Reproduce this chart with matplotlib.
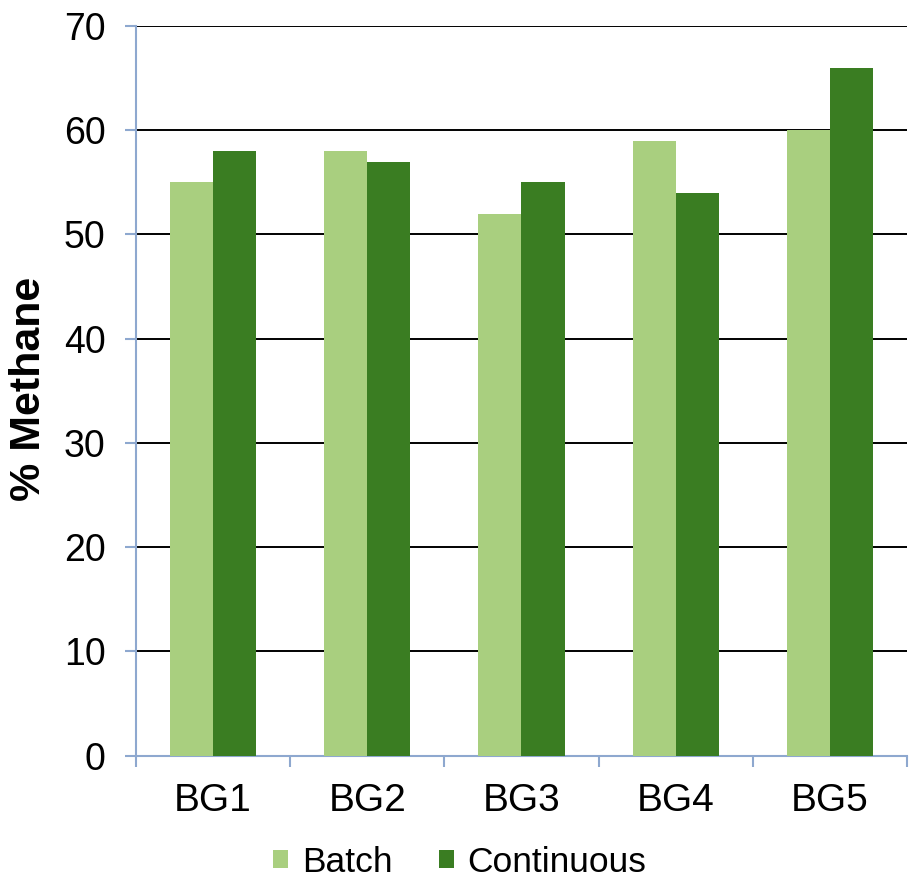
import numpy as np
import matplotlib.pyplot as plt

plt.rcParams['font.family'] = ['Liberation Sans', 'DejaVu Sans']

groups = ["BG1", "BG2", "BG3", "BG4", "BG5"]
batch = [55, 58, 52, 59, 60]
continuous = [58, 57, 55, 54, 66]

light = "#A9CF7F"
dark = "#3A7D22"
axis_col = "#8EA8CF"

fig = plt.figure(figsize=(9.09, 8.82), dpi=100)
ax = fig.add_axes([0.1496, 0.1432, 0.8482, 0.8273])

x = np.arange(len(groups))
w = 0.28
ax.bar(x - w / 2, batch, w, color=light, label="Batch", zorder=3)
ax.bar(x + w / 2, continuous, w, color=dark, label="Continuous", zorder=3)

ax.set_ylim(0, 70)
ax.set_xlim(-0.5, len(groups) - 0.5)
ax.set_yticks(range(0, 71, 10))
ax.yaxis.grid(True, color="black", linewidth=1.4, zorder=0)
ax.set_axisbelow(True)

# category labels centred, tick marks on the group boundaries
ax.set_xticks(x)
ax.set_xticklabels(groups, fontsize=28)
ax.set_xticks(np.arange(-0.5, len(groups), 1), minor=True)
ax.tick_params(axis="x", which="major", length=0, pad=20)
ax.tick_params(axis="x", which="minor", length=8, width=1.5, color=axis_col)
ax.tick_params(axis="y", length=8, width=1.5, color=axis_col, labelsize=27, pad=14)

for s in ["top", "right"]:
    ax.spines[s].set_visible(False)
for s in ["left", "bottom"]:
    ax.spines[s].set_color(axis_col)
    ax.spines[s].set_linewidth(1.5)

fig.text(29 / 909, 1 - 389 / 882, "% Methane", rotation=90, fontsize=31,
         fontweight="bold", ha="center", va="center")

ax.legend(loc="center", bbox_to_anchor=(0.42, -0.146), ncol=2, frameon=False,
          fontsize=25.5, handlelength=0.42, handleheight=0.42, handletextpad=0.4,
          columnspacing=1.3, borderpad=0)

fig.savefig("out.png", dpi=100)
